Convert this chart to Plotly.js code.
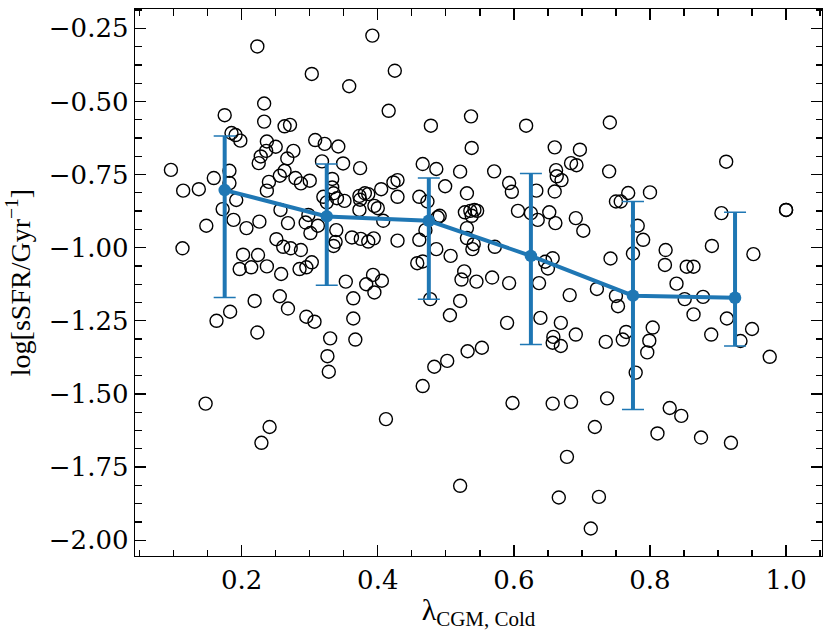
<!DOCTYPE html>
<html>
<head>
<meta charset="utf-8">
<script src="https://cdn.plot.ly/plotly-3.0.1.min.js"></script>
<style>
html,body{margin:0;padding:0;background:#fff;}
#chart{width:831px;height:631px;}
</style>
</head>
<body>
<div id="chart"></div>
<script>
// Individual galaxies: lambda_CGM,Cold vs log sSFR
const lambdaCold = [
0.223,0.303,0.358,0.233,0.175,0.233,0.263,0.271,0.185,0.191,0.198,0.237,0.250,0.308,0.322,0.342,0.236,0.276,0.228,0.267,
0.225,0.318,0.349,0.374,0.096,0.182,0.263,0.159,0.256,0.279,0.240,0.287,0.300,0.333,0.182,0.237,0.114,0.137,0.333,0.320,
0.335,0.340,0.351,0.373,0.381,0.374,0.386,0.192,0.172,0.257,0.325,0.373,0.298,0.188,0.226,0.268,0.294,0.312,0.148,0.207,
0.339,0.301,0.251,0.362,0.375,0.338,0.261,0.272,0.287,0.335,0.113,0.202,0.224,0.303,0.197,0.214,0.237,0.285,0.295,0.258,
0.353,0.219,0.256,0.268,0.183,0.163,0.223,0.295,0.307,0.330,0.326,0.328,0.364,0.364,0.367,0.383,0.147,0.241,0.229,
0.392,0.425,0.416,0.537,0.478,0.618,0.660,0.697,0.538,0.466,0.486,0.521,0.571,0.662,0.684,0.692,0.663,0.670,0.593,0.597,
0.633,0.660,0.423,0.429,0.405,0.429,0.499,0.531,0.461,0.473,0.395,0.400,0.408,0.491,0.488,0.528,0.536,0.542,0.546,0.538,
0.606,0.625,0.635,0.652,0.661,0.691,0.702,0.470,0.531,0.531,0.541,0.539,0.572,0.394,0.386,0.429,0.461,0.486,0.507,0.458,
0.466,0.646,0.657,0.650,0.393,0.406,0.527,0.523,0.545,0.568,0.593,0.637,0.395,0.477,0.521,0.506,0.590,0.639,0.669,0.682,
0.691,0.658,0.657,0.669,0.722,0.532,0.553,0.502,0.483,0.466,0.598,0.657,0.684,0.412,0.719,0.678,0.521,0.666,0.725,0.713,
0.741,0.740,0.912,0.768,0.800,0.750,0.757,1.000,1.000,0.905,0.782,0.790,0.823,0.891,0.952,0.742,0.775,0.822,0.854,0.864,
0.839,0.750,0.753,0.851,0.878,0.864,0.913,0.950,0.890,0.933,0.976,0.765,0.760,0.735,0.804,0.799,0.796,0.779,0.737,0.829,
0.846,0.811,0.875,0.919
];
const logSSFR = [
-0.312,-0.406,-0.448,-0.507,-0.547,-0.569,-0.585,-0.580,-0.608,-0.615,-0.634,-0.637,-0.655,-0.632,-0.645,-0.654,-0.669,-0.669,-0.688,-0.695,
-0.711,-0.705,-0.712,-0.728,-0.734,-0.737,-0.737,-0.762,-0.754,-0.762,-0.775,-0.780,-0.771,-0.765,-0.779,-0.805,-0.805,-0.800,-0.794,-0.826,
-0.814,-0.831,-0.840,-0.823,-0.814,-0.836,-0.817,-0.837,-0.868,-0.871,-0.845,-0.871,-0.888,-0.905,-0.911,-0.916,-0.914,-0.925,-0.925,-0.933,
-0.940,-0.950,-0.971,-0.965,-0.970,-0.980,-0.997,-1.002,-1.008,-0.994,-1.002,-1.024,-1.025,-1.050,-1.073,-1.067,-1.064,-1.073,-1.067,-1.090,
-1.116,-1.182,-1.166,-1.208,-1.219,-1.250,-1.290,-1.236,-1.253,-1.310,-1.371,-1.424,-1.173,-1.242,-1.314,-1.125,-1.533,-1.613,-1.667,
-0.275,-0.395,-0.532,-0.551,-0.583,-0.583,-0.657,-0.665,-0.659,-0.714,-0.731,-0.740,-0.739,-0.735,-0.711,-0.718,-0.756,-0.769,-0.779,-0.809,
-0.805,-0.808,-0.777,-0.769,-0.800,-0.826,-0.790,-0.814,-0.826,-0.842,-0.857,-0.865,-0.908,-0.891,-0.896,-0.879,-0.874,-0.871,-0.874,-0.891,
-0.874,-0.882,-0.905,-0.879,-0.916,-0.899,-0.942,-0.940,-0.933,-0.967,-0.988,-1.005,-0.997,-0.968,-0.979,-0.976,-0.973,-1.005,-1.028,-1.053,
-1.047,-1.048,-1.036,-1.071,-1.093,-1.113,-1.081,-1.109,-1.116,-1.102,-1.121,-1.121,-1.153,-1.176,-1.182,-1.231,-1.257,-1.240,-1.257,-1.162,
-1.297,-1.305,-1.325,-1.336,-1.141,-1.354,-1.342,-1.387,-1.407,-1.473,-1.531,-1.533,-1.527,-1.586,-1.613,-1.715,-1.814,-1.854,-1.852,-1.960,
-0.572,-0.739,-0.706,-0.813,-0.811,-0.842,-0.842,-0.871,-0.871,-0.882,-0.925,-0.973,-1.008,-0.994,-1.022,-1.037,-1.020,-1.059,-1.065,-1.065,
-1.123,-1.165,-1.200,-1.176,-1.168,-1.228,-1.242,-1.278,-1.297,-1.319,-1.373,-1.288,-1.314,-1.322,-1.273,-1.318,-1.358,-1.427,-1.515,-1.548,
-1.575,-1.635,-1.649,-1.667
];

// Binned medians with asymmetric spread
const binCenters = [0.175, 0.325, 0.475, 0.625, 0.775, 0.925];
const binMedian  = [-0.803, -0.893, -0.908, -1.028, -1.164, -1.171];
const binUpper   = [-0.618, -0.714, -0.762, -0.746, -0.842, -0.879];
const binLower   = [-1.170, -1.128, -1.176, -1.331, -1.553, -1.336];

const errPlus  = binCenters.map((_, i) => binUpper[i] - binMedian[i]);
const errMinus = binCenters.map((_, i) => binMedian[i] - binLower[i]);

const xTickVals = [0.2, 0.4, 0.6, 0.8, 1.0];
const xTickText = ['0.2', '0.4', '0.6', '0.8', '1.0'];
const yTickVals = [-2.00, -1.75, -1.50, -1.25, -1.00, -0.75, -0.50, -0.25];

const blue = '#1f77b4';

const traces = [
  {
    x: lambdaCold, y: logSSFR, type: 'scatter', mode: 'markers',
    marker: {symbol: 'circle-open', size: 13, color: '#000', line: {width: 1.4, color: '#000'}},
    hoverinfo: 'skip', showlegend: false
  },
  {
    x: binCenters, y: binMedian, type: 'scatter', mode: 'markers',
    marker: {size: 1, color: 'rgba(0,0,0,0)'},
    error_y: {type: 'data', symmetric: false, array: errPlus, arrayminus: errMinus,
              color: blue, thickness: 4, width: 0},
    hoverinfo: 'skip', showlegend: false
  },
  {
    x: binCenters, y: binMedian, type: 'scatter', mode: 'markers',
    marker: {size: 1, color: 'rgba(0,0,0,0)'},
    error_y: {type: 'data', symmetric: false, array: errPlus, arrayminus: errMinus,
              color: blue, thickness: 1.5, width: 11},
    hoverinfo: 'skip', showlegend: false
  },
  {
    x: binCenters, y: binMedian, type: 'scatter', mode: 'lines+markers',
    line: {color: blue, width: 4},
    marker: {color: blue, size: 12.5},
    hoverinfo: 'skip', showlegend: false
  }
];

const tickFont = {family: 'DejaVu Serif', size: 26, color: '#000'};

const layout = {
  width: 831, height: 631,
  margin: {l: 135, r: 9, t: 9, b: 75, pad: 0},
  paper_bgcolor: '#fff', plot_bgcolor: '#fff',
  showlegend: false,
  xaxis: {
    range: [0.0432, 1.0528],
    tickmode: 'array', tickvals: xTickVals, ticktext: xTickText,
    ticks: 'inside', ticklen: 11, tickwidth: 1.3, tickcolor: '#000',
    minor: {dtick: 0.05, tick0: 0, ticks: 'inside', ticklen: 6.5, tickwidth: 1.3, tickcolor: '#000', showgrid: false},
    showline: true, linecolor: '#000', linewidth: 1.3, mirror: 'ticks',
    showgrid: false, zeroline: false,
    tickfont: tickFont,
    title: {text: 'λ<sub>CGM, Cold</sub>', font: {family: 'Liberation Serif', size: 30, color: '#000'}, standoff: 0}
  },
  yaxis: {
    range: [-2.054, -0.184],
    tickmode: 'array', tickvals: yTickVals, tickformat: '.2f',
    ticks: 'inside', ticklen: 11, tickwidth: 1.3, tickcolor: '#000',
    minor: {dtick: 0.0625, tick0: 0, ticks: 'inside', ticklen: 6.5, tickwidth: 1.3, tickcolor: '#000', showgrid: false},
    showline: true, linecolor: '#000', linewidth: 1.3, mirror: 'ticks',
    showgrid: false, zeroline: false,
    tickfont: tickFont,
    title: {text: 'log[sSFR/Gyr<sup>−1</sup>]', font: {family: 'Liberation Serif', size: 28, color: '#000'}, standoff: 10}
  }
};

Plotly.newPlot('chart', traces, layout, {staticPlot: true, displayModeBar: false});
</script>
</body>
</html>
